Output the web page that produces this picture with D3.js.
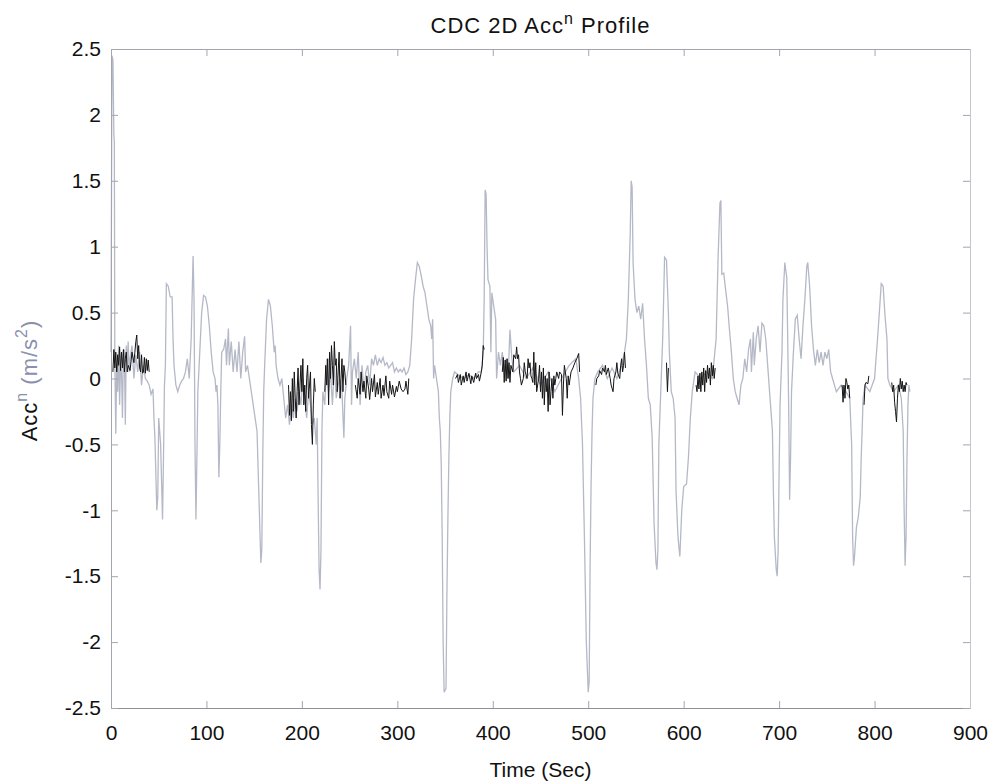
<!DOCTYPE html>
<html>
<head>
    <meta charset="utf-8">
    <title>CDC 2D Acc Profile</title>
    <script src="https://d3js.org/d3.v7.min.js"></script>
    <style>
        * {
            margin: 0;
            padding: 0;
        }
        body {
            background: #fff;
        }
        svg text {
            font-family: "Liberation Sans", Arial, sans-serif;
        }
    </style>
</head>
<body>
<div id="chart"></div>

<script>
    // axis ranges and tick labels
    const xTicks = [0, 100, 200, 300, 400, 500, 600, 700, 800, 900];
    const yTicks = [-2.5, -2, -1.5, -1, -0.5, 0, 0.5, 1, 1.5, 2, 2.5];

    // light gray trace: [time (s), acc (m/s^2)]
    const grayProfile = [
        [0,0.2],[1,2.45],[2,2.42],[3,1.85],[3.5,1.8],[4,0.15],[5,-0.42],[6,0.12],[7,-0.1],[8,0.25],
        [9,-0.2],[10,0.1],[11,0.05],[12,-0.3],[13,0.2],[14,0.22],[15,-0.35],[16,0.25],[17,0.1],[18,0.28],
        [19,0.05],[20,0.15],[22,0.25],[24,0],[26,0.18],[28,0.05],[30,0.2],[32,-0.05],[34,0.1],[36,0],
        [38,-0.02],[40,-0.05],[42,-0.12],[44,-0.08],[45,-0.3],[46,-0.45],[48,-1.0],[49,-0.9],[50,-0.3],[52,-0.5],
        [54,-1.07],[55,-0.6],[56,-0.05],[57,0.1],[58,0.72],[60,0.7],[62,0.62],[64,0.62],[65,0.3],
        [66,0.1],[68,-0.05],[70,-0.1],[72,-0.05],[74,-0.02],[76,0],[78,0.05],[80,0.15],[82,0],[84,0.3],
        [86,0.93],[87,0.6],[88,-0.5],[89,-1.07],[90,-0.6],[91,-0.1],[93,0.2],[95,0.5],[97,0.63],[99,0.62],
        [101,0.55],[103,0.4],[105,0.2],[107,0.05],[109,0],[110,-0.1],[111,-0.05],[112,-0.2],[113,-0.75],[114,-0.5],
        [115,-0.1],[116,0.2],[118,0.22],[120,0.3],[121,0.1],[123,0.38],[124,0.1],[126,0.28],[128,0.05],[130,0.22],
        [132,0.05],[134,0.28],[136,0],[138,0.2],[140,0.32],[141,0.05],[143,0.1],[145,0],[147,-0.1],[149,-0.2],
        [151,-0.3],[153,-0.4],[155,-0.9],[157,-1.4],[158,-1.3],[159,-0.6],[160,-0.1],[161,0.1],[163,0.45],[165,0.6],
        [167,0.55],[169,0.4],[171,0.2],[172,0.25],[173,0.1],[175,0],[177,-0.05],[179,0],[181,-0.15],[183,-0.3],
        [185,-0.2],[187,-0.35],[189,-0.2],[191,-0.3],[193,-0.15],[195,-0.25],[197,-0.1],[199,-0.2],[201,0],[203,-0.15],
        [205,-0.3],[207,-0.1],[209,-0.2],[211,-0.35],[213,-0.3],[215,-0.5],[216,-0.3],[217,-0.9],[218,-1.45],[219,-1.6],
        [220,-1.3],[221,-0.4],[222,-0.1],[224,-0.2],[226,0.15],[228,-0.1],[230,0.05],[232,-0.2],[234,0.1],[236,-0.15],
        [238,-0.05],[240,0],[242,-0.1],[244,-0.45],[245,-0.15],[247,0],[249,0.1],[251,0.4],[252,-0.2],[253,0.05],
        [255,0.15],[257,0],[259,0.2],[261,-0.2],[263,0.1],[265,-0.1],[267,0.05],[269,0.1],[271,-0.05],[273,0.15],
        [275,0.1],[277,0.18],[279,0.1],[281,0.15],[283,0.12],[285,0.16],[287,0.1],[289,0.12],[291,0.08],[293,0.1],
        [295,0.12],[297,0.05],[299,0.08],[301,0.05],[303,0.07],[305,0.05],[307,0.08],[309,0.03],[311,0.05],[313,0.1],
        [315,0.3],[317,0.6],[319,0.75],[321,0.88],[323,0.85],[325,0.78],[327,0.7],[329,0.65],[331,0.55],[333,0.45],
        [335,0.4],[336,0.3],[337,0.45],[338,0],[339,0.1],[341,0],[343,-0.1],[344,-0.3],[345,-0.4],[346,-0.65],
        [347,-1.2],[348,-2.0],[349,-2.38],[351,-2.35],[352,-1.6],[353,-1.05],[354,-0.6],[355,-0.3],[356,-0.1],[358,0],
        [360,0.05],[365,0.02],[370,0],[375,0.03],[380,0],[385,0.05],[388,0.05],[390,0.2],[391,0.6],[392,1.43],
        [393,1.4],[394,1.0],[395,0.75],[397,0.7],[398,0.2],[399,0.65],[401,0.55],[403,0.45],[404,0],[406,0.2],
        [408,0.1],[410,0.2],[412,0.05],[414,0.15],[416,0],[418,0.37],[420,0.15],[422,0.05],[428,0.1],[435,0],
        [442,0.08],[450,-0.05],[458,0.05],[465,-0.1],[472,0],[480,0.1],[487,0.15],[490,0],[492,-0.15],[494,-0.5],
        [496,-1.2],[498,-2.0],[500,-2.38],[501,-2.3],[502,-1.4],[503,-0.8],[504,-0.4],[505,-0.15],[507,0],[510,0.05],
        [515,0.1],[520,0],[525,0.08],[530,0],[535,0.1],[538,0.2],[540,0.3],[542,0.6],[544,1.1],[545,1.5],
        [546,1.45],[547,0.88],[549,0.6],[551,0.5],[553,0.55],[555,0.45],[557,0.57],[559,0.3],[561,0.1],[563,-0.15],
        [565,-0.2],[567,-0.45],[569,-1.1],[571,-1.4],[572,-1.45],[573,-1.3],[574,-0.5],[576,-0.1],[578,0.3],[579,0.6],
        [580,0.92],[582,0.9],[584,0.5],[585,0.2],[587,-0.1],[589,-0.15],[591,-0.3],[592,-0.85],[594,-1.2],[596,-1.35],
        [598,-1.0],[600,-0.82],[603,-0.8],[605,-0.6],[607,-0.3],[609,-0.1],[612,0.05],
        [618,0],[624,0.05],[630,0],[634,0.3],[636,0.9],[638,1.33],[639,1.35],[640,0.79],[642,0.8],[644,0.67],
        [646,0.55],[648,0.37],[650,0.2],[652,0],[654,-0.1],[656,-0.15],[658,-0.2],[660,-0.05],[662,0],[664,0.15],
        [666,0.05],[668,0.22],[670,0.3],[671,0.05],[673,0.35],[674,0.1],[676,0.3],[678,0.4],[680,0.2],[682,0.42],
        [684,0.4],[686,0.3],[688,0.1],[690,-0.1],[692,-0.3],[693,-0.4],[694,-0.85],[695,-1.2],[697,-1.45],[698,-1.5],
        [699,-1.3],[700,-0.7],[701,-0.2],[703,0.2],[704,0.6],[706,0.88],[707,0.82],[708,0.77],[709,0.3],[710,-0.2],
        [711,-0.92],[712,-0.6],[713,-0.1],[715,0.2],[717,0.45],[719,0.48],[721,0.3],[723,0.15],[725,0.4],[727,0.6],
        [729,0.85],[730,0.88],[732,0.7],[734,0.4],[736,0.22],[738,0.1],[740,0.22],[742,0.12],[744,0.2],[746,0.1],
        [748,0.2],[750,0.15],[752,0.22],[754,0.05],[756,0],[758,-0.05],[760,-0.1],[765,-0.05],[770,-0.1],[774,-0.15],
        [776,-0.5],[777,-1.2],[778,-1.42],[779,-1.35],[781,-1.13],[783,-1.05],[785,-0.9],[786,-0.6],[787,-0.39],[788,-0.15],
        [790,-0.05],[795,-0.1],[800,0],[803,0.29],[805,0.5],[807,0.72],[809,0.7],[811,0.47],[813,0.3],[814,0],
        [816,-0.05],[820,-0.1],[825,-0.05],[828,-0.15],[830,-0.4],[831,-1.0],[832,-1.42],[833,-1.2],[834,-0.6],[835,-0.2],
        [836,-0.05],[837,-0.1]
    ];

    // dark trace, drawn only in the quiet stretches
    const blackSegments = [
        [[2,0.05],[3,0.22],[4,0.08],[5,0.2],[6,0.05],[7,0.18],[8,0.1],[9,0.24],[10,0.06],[11,0.2],[12,0.08],
         [13,0.22],[14,0.05],[15,0.15],[16,0.2],[17,0.05],[18,0.1],[20,0.06],[22,0.2],[24,0.12],[25,0.2],[26,0.28],
         [27,0.33],[28,0.15],[29,0.25],[30,0.08],[31,0.05],[32,0.18],[33,0.04],[34,0.05],[35,0.16],[36,0.04],
         [37,0.15],[38,0.06],[39,0.14],[40,0.05]],
        [[186,-0.05],[187,-0.28],[188,-0.1],[189,-0.32],[190,0],[191,-0.25],[192,0.05],[193,-0.15],[194,-0.3],
         [195,-0.1],[196,0.08],[197,-0.2],[198,-0.05],[199,0.1],[200,-0.1],[201,0.15],[202,-0.2],[203,-0.05],
         [204,-0.25],[205,0],[206,0.1],[207,-0.15],[208,-0.05],[209,0.05],[210,-0.35],[211,-0.5],[212,-0.2],
         [213,0],[214,-0.1]],
        [[224,-0.1],[225,0.1],[226,-0.05],[227,0.15],[228,-0.2],[229,0.2],[230,0],[231,0.25],[232,0.1],[233,-0.05],
         [234,0.28],[235,0.1],[236,0.15],[237,-0.1],[238,0.05],[239,0.2],[240,-0.15],[241,0],[242,0.15],[243,-0.1],
         [244,0.1],[245,0.05],[246,-0.05]],
        [[256,-0.05],[258,-0.15],[259,0],[261,-0.12],[262,0.05],[264,-0.1],[265,-0.02],[267,-0.15],[268,0.02],
         [270,-0.08],[271,-0.16],[273,0],[274,-0.1],[276,0.03],[277,-0.14],[279,-0.03],[280,-0.12],[282,0],
         [283,-0.15],[285,-0.05],[286,-0.13],[288,0.02],[289,-0.1],[291,-0.15],[292,-0.02],[294,-0.12],[295,-0.05],
         [297,-0.14],[299,-0.06],[300,-0.1],[302,-0.02],[304,-0.08],[306,-0.1],[308,-0.08],[309,-0.02],[311,-0.12],
         [312,0]],
        [[361,0],[363,0.03],[364,-0.03],[366,0.03],[367,-0.05],[369,0.02],[370,-0.03],[372,0.05],[373,-0.02],
         [375,0.04],[377,-0.04],[378,0.02],[380,-0.03],[382,0.04],[383,0],[385,0.03],[386,-0.02],[388,0.05],
         [389,0.1],[390,0.25],[391,0.22]],
        [[410,0.05],[411,0.16],[412,-0.03],[413,0.14],[414,-0.02],[415,0.15],[416,0],[417,0.12],[418,-0.03],
         [419,0.1],[421,0.05],[422,0.18],[424,0.15],[425,0.24],[426,0.15],[427,0.18],[428,0.05],[429,0],[430,-0.05],
         [432,0],[433,0.12],[434,0.05],[436,0],[437,0.15],[438,0.08],[439,0.12],[440,0.02],[441,0],[442,-0.03],
         [443,0.2],[444,-0.05],[445,0.12],[446,-0.1],[448,0],[449,0.1],[450,-0.1],[451,0.05],[452,-0.15],[453,0.08],
         [454,-0.2],[455,0.02],[456,-0.1],[457,0],[458,-0.25],[459,0.05],[460,-0.2],[461,-0.1],[462,0],[463,-0.15],
         [464,0.02],[465,-0.05],[466,0],[467,0.05],[469,0],[470,0.05],[472,0.03],[473,-0.28],[474,-0.05],[475,0.1],
         [476,0.05],[477,0],[478,-0.15],[479,0.02],[480,-0.05],[482,0.05],[484,0.08],[486,0.12],[488,0.15],
         [490,0.19],[491,0.05]],
        [[508,-0.05],[509,0],[511,0.02],[512,0.06],[514,0.03],[515,0.08],[517,0.05],[518,0.1],[519,0.03],[521,0.08],
         [523,0],[524,-0.05],[526,-0.1],[527,0],[529,0.05],[530,0.12],[531,0.04],[533,0],[534,0.1],[535,0.15],
         [536,0.05],[537,0.1],[538,0.2],[539,0.08]],
        [[582,0.12],[583,-0.1],[584,0.08]],
        [[613,-0.05],[614,-0.1],[615,0.02],[616,-0.08],[617,0.04],[618,-0.1],[619,0.05],[620,-0.05],[621,0.08],
         [622,-0.1],[623,0.06],[624,-0.03],[625,0.1],[626,0],[627,0.08],[628,-0.05],[629,0.12],[630,0.02],
         [631,0.1],[632,0],[633,0.08]],
        [[766,-0.05],[767,-0.18],[768,-0.05],[769,-0.15],[770,0],[771,-0.03],[772,-0.08],[773,-0.05],[774,-0.15]],
        [[789,-0.2],[790,-0.05],[791,-0.03],[793,-0.04],[794,0.02]],
        [[818,-0.03],[819,-0.1],[820,-0.05],[821,-0.18],[822,-0.25],[823,-0.33],[824,-0.15],[825,-0.05],
         [826,-0.1],[827,0],[828,-0.08],[829,-0.02],[830,-0.1],[831,-0.05],[832,-0.1],[833,-0.03],[834,-0.05]]
    ];

    const width = 993, height = 781;
    const mLeft = 111, mRight = 970, mTop = 49, mBottom = 708;
    const axisColor = "#a4a6ae";

    const svg = d3.select("#chart").append("svg")
        .attr("width", width)
        .attr("height", height);

    const x = d3.scaleLinear().domain([0, 900]).range([mLeft, mRight]);
    const y = d3.scaleLinear().domain([-2.5, 2.5]).range([mBottom, mTop]);

    // traces
    const line = d3.line()
        .x(d => x(d[0]))
        .y(d => y(d[1]));

    svg.append("path")
        .datum(grayProfile)
        .attr("fill", "none")
        .attr("stroke", "#b5b9c7")
        .attr("stroke-width", 1.3)
        .attr("d", line);

    svg.selectAll(".blk")
        .data(blackSegments)
        .join("path")
        .attr("class", "blk")
        .attr("fill", "none")
        .attr("stroke", "#141414")
        .attr("stroke-width", 1)
        .attr("d", line);

    // box + inward ticks (matlab style), plain hyphen minus like matlab
    const tickLen = 7;
    const fmt = d => String(d);
    svg.append("g")
        .attr("transform", `translate(0,${mBottom})`)
        .call(d3.axisBottom(x).tickValues(xTicks).tickSize(-tickLen).tickPadding(17).tickFormat(fmt))
        .call(g => g.select(".domain").attr("stroke", "#8e9098"));
    svg.append("g")
        .attr("transform", `translate(0,${mTop})`)
        .call(d3.axisTop(x).tickValues(xTicks).tickSize(-tickLen).tickFormat(""))
        .call(g => g.select(".domain").attr("stroke", axisColor));
    svg.append("g")
        .attr("transform", `translate(${mLeft},0)`)
        .call(d3.axisLeft(y).tickValues(yTicks).tickSize(-tickLen).tickPadding(10).tickFormat(fmt))
        .call(g => g.select(".domain").attr("stroke", axisColor));
    svg.append("g")
        .attr("transform", `translate(${mRight},0)`)
        .call(d3.axisRight(y).tickValues(yTicks).tickSize(-tickLen).tickFormat(""))
        .call(g => g.select(".domain").attr("stroke", "#c4c6cc"));

    svg.selectAll(".tick line").attr("stroke", axisColor);
    svg.selectAll(".tick text")
        .attr("fill", "#111")
        .style("font-size", "21px")
        .style("font-family", "'Liberation Sans', Arial, sans-serif");

    // title
    const title = svg.append("text")
        .attr("x", (mLeft + mRight) / 2)
        .attr("y", 33)
        .attr("text-anchor", "middle")
        .attr("fill", "#111")
        .style("font-size", "22px")
        .style("letter-spacing", "1px");
    title.append("tspan").text("CDC 2D Acc");
    title.append("tspan").attr("dy", -9).style("font-size", "16px").text("n");
    title.append("tspan").attr("dy", 9).text(" Profile");

    // x label
    svg.append("text")
        .attr("x", (mLeft + mRight) / 2)
        .attr("y", 777)
        .attr("text-anchor", "middle")
        .attr("fill", "#111")
        .style("font-size", "21px")
        .text("Time (Sec)");

    // y label
    const ylab = svg.append("text")
        .attr("transform", `translate(37,${(mTop + mBottom) / 2 + 2}) rotate(-90)`)
        .attr("text-anchor", "middle")
        .attr("fill", "#111")
        .style("font-size", "22px")
        .style("letter-spacing", "1px");
    ylab.append("tspan").text("Acc");
    ylab.append("tspan").attr("dy", -10).attr("fill", "#8a8fae").style("font-size", "16px").text("n");
    ylab.append("tspan").attr("dy", 10).attr("fill", "#8a8fae").text(" (m/s");
    ylab.append("tspan").attr("dy", -10).attr("fill", "#8a8fae").style("font-size", "16px").text("2");
    ylab.append("tspan").attr("dy", 10).attr("fill", "#8a8fae").text(")");
</script>
</body>
</html>
